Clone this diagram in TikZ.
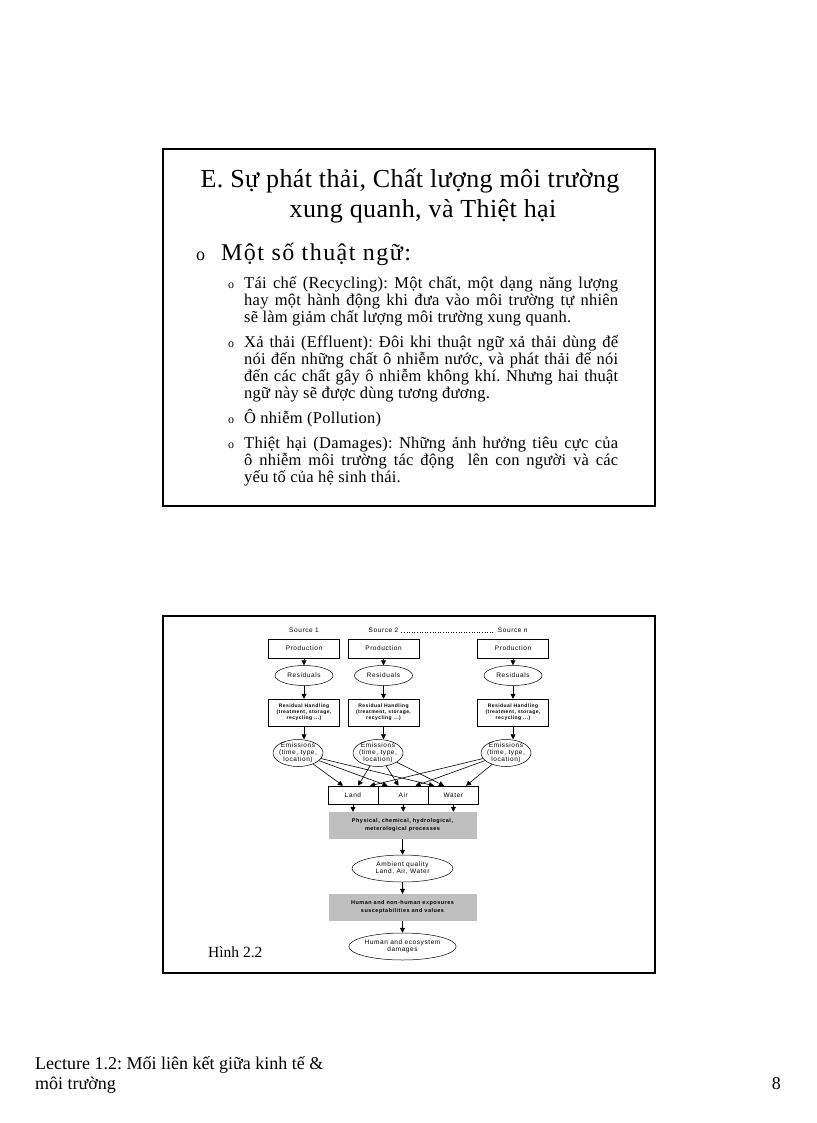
\documentclass[tikz,border=0pt]{standalone}
\usepackage{fontspec}
\setmainfont{Liberation Serif}
\newfontfamily\slidefont[LetterSpace=1.5]{Liberation Serif}
\newfontfamily\termfont[LetterSpace=6]{Liberation Serif}
\newfontfamily\diagfont[LetterSpace=9]{Liberation Sans}
\usetikzlibrary{shapes.geometric,arrows.meta,positioning,calc}
\tolerance=10000
\hyphenpenalty=10000
\frenchspacing

\begin{document}
\begin{tikzpicture}[
    x=1pt, y=-1pt,
    panel/.style={draw, line width=2pt},
    subtext/.style={text width=374pt, align=justify, inner sep=0pt, anchor=base west, font=\slidefont\fontsize{16.5}{17}\selectfont},
    subdot/.style={inner sep=0pt, anchor=base west, font=\fontsize{12}{12}\selectfont},
    srclabel/.style={inner sep=1pt, font=\diagfont\fontsize{6.5}{7}\selectfont},
    procbox/.style={rectangle, draw, line width=0.5pt, minimum width=71pt, minimum height=19pt, inner sep=0pt, font=\diagfont\fontsize{6.5}{7}\selectfont},
    resid/.style={ellipse, draw, line width=0.5pt, minimum width=58pt, minimum height=20pt, inner sep=0pt, font=\diagfont\fontsize{6.5}{7}\selectfont},
    handbox/.style={rectangle, draw, line width=0.5pt, minimum width=71pt, minimum height=27pt, inner sep=0pt, align=center, font=\diagfont\bfseries\fontsize{5}{6}\selectfont},
    emis/.style={ellipse, draw, line width=0.5pt, minimum width=50pt, minimum height=27pt, inner xsep=-3.5pt, inner ysep=-0.5pt, align=center, font=\diagfont\fontsize{6.5}{7}\selectfont},
    medium/.style={rectangle, draw, line width=0.5pt, minimum width=49.7pt, minimum height=18pt, inner sep=0pt, font=\diagfont\fontsize{6.5}{7}\selectfont},
    process/.style={rectangle, fill=gray!50, minimum width=148pt, minimum height=27pt, inner sep=0pt, align=center, font=\diagfont\bfseries\fontsize{5.5}{8}\selectfont},
    outcome/.style={ellipse, draw, line width=0.5pt, minimum width=101pt, minimum height=27pt, inner sep=0pt, align=center, font=\diagfont\fontsize{6.5}{7}\selectfont},
    flow/.style={-{Triangle[length=5pt,width=5pt]}, line width=0.6pt},
]
    \useasboundingbox[fill=white] (0,0) rectangle (816,1123);

    % Upper slide
    \draw[panel] (163,149) rectangle (655,506);
    \node[font=\slidefont\fontsize{26}{30}\selectfont, anchor=base] (title1) at (410,188) {E. Sự phát thải, Chất lượng môi trường};
    \node[font=\slidefont\fontsize{26}{30}\selectfont, anchor=base] (title2) at (423,218) {xung quanh, và Thiệt hại};
    \node[inner sep=0pt, anchor=base west, font=\fontsize{18}{18}\selectfont] (dot0) at (196,260) {o};
    \node[inner sep=0pt, anchor=base west, font=\termfont\fontsize{24}{24}\selectfont] (terms) at (221,260) {Một số thuật ngữ:};

    \node[subdot] (dot1) at (228,288) {o};
    \node[subtext] (recycling) at (244,288) {Tái chế (Recycling): Một chất, một dạng năng lượng\linebreak hay một hành động khi đưa vào môi trường tự nhiên\linebreak sẽ làm giảm chất lượng môi trường xung quanh.};
    \node[subdot] (dot2) at (228,347) {o};
    \node[subtext] (effluent) at (244,347) {Xả thải (Effluent): Đôi khi thuật ngữ xả thải dùng để\linebreak nói đến những chất ô nhiễm nước, và phát thải để nói\linebreak đến các chất gây ô nhiễm không khí. Nhưng hai thuật\linebreak ngữ này sẽ được dùng tương đương.};
    \node[subdot] (dot3) at (228,423) {o};
    \node[subtext] (pollution) at (244,423) {Ô nhiễm (Pollution)};
    \node[subdot] (dot4) at (228,448) {o};
    \node[subtext] (damages) at (244,448) {Thiệt hại (Damages): Những ảnh hưởng tiêu cực của\linebreak ô nhiễm môi trường tác động\ \ lên con người và các\linebreak yếu tố của hệ sinh thái.};

    % Lower slide: figure
    \draw[panel] (163,616) rectangle (655,973);

    % Sources
    \node[srclabel] (src1) at (304,630) {Source 1};
    \node[srclabel] (src2) at (383.5,630) {Source 2};
    \node[srclabel] (srcn) at (513,630) {Source \textit{n}};
    \draw[dotted, line width=0.6pt, shorten >=2pt, shorten <=2pt] (src2.base east) -- (srcn.base west);

    % Production
    \node[procbox] (prod1) at (304,648.5) {Production};
    \node[procbox] (prod2) at (383.5,648.5) {Production};
    \node[procbox] (prod3) at (513,648.5) {Production};
    % Residuals
    \node[resid, below=7pt of prod1] (res1) {Residuals};
    \node[resid, below=7pt of prod2] (res2) {Residuals};
    \node[resid, below=7pt of prod3] (res3) {Residuals};
    % Residual handling
    \node[handbox, below=13pt of res1] (hand1) {Residual Handling\\(treatment, storage,\\recycling ...)};
    \node[handbox, below=13pt of res2] (hand2) {Residual Handling\\(treatment, storage,\\recycling ...)};
    \node[handbox, below=13pt of res3] (hand3) {Residual Handling\\(treatment, storage,\\recycling ...)};
    % Emissions
    \node[emis] (em1) at (298,753) {Emissions\\(time, type,\\location)};
    \node[emis] (em2) at (378,753) {Emissions\\(time, type,\\location)};
    \node[emis] (em3) at (506,753) {Emissions\\(time, type,\\location)};

    \draw[flow] (prod1) -- (res1);
    \draw[flow] (prod2) -- (res2);
    \draw[flow] (prod3) -- (res3);
    \draw[flow] (res1) -- (hand1);
    \draw[flow] (res2) -- (hand2);
    \draw[flow] (res3) -- (hand3);
    \draw[flow] (hand1.south) -- (hand1.south |- em1.north);
    \draw[flow] (hand2.south) -- (hand2.south |- em2.north);
    \draw[flow] (hand3.south) -- (hand3.south |- em3.north);

    % Media
    \node[medium] (land) at (353,795) {Land};
    \node[medium, right=0pt of land] (air) {Air};
    \node[medium, right=0pt of air] (water) {Water};

    \draw[flow] (em1) -- ($(land.north)+(-10pt,0)$);
    \draw[flow] (em2) -- ($(land.north)+(5pt,0)$);
    \draw[flow] (em3) -- ($(land.north)+(17pt,0)$);
    \draw[flow] (em1) -- ($(air.north)+(-15.7pt,0)$);
    \draw[flow] (em2) -- ($(air.north)+(-4.7pt,0)$);
    \draw[flow] (em3) -- ($(air.north)+(12.3pt,0)$);
    \draw[flow] (em1) -- ($(water.north)+(-19.4pt,0)$);
    \draw[flow] (em2) -- ($(water.north)+(-9.4pt,0)$);
    \draw[flow] (em3) -- ($(water.north)+(12.6pt,0)$);

    % Processes and outcomes
    \node[process] (phys) at (402.5,825.5) {Physical, chemical, hydrological,\\meterological processes};
    \node[outcome] (amb) at (402.5,868.5) {Ambient quality\\Land, Air, Water};
    \node[process] (expo) at (402.5,907.5) {Human and non-human exposures\\susceptabilities and values};
    \node[outcome] (dmg) at (402.5,946.5) {Human and ecosystem\\damages};

    \draw[flow] (land.south) -- (land.south |- phys.north);
    \draw[flow] (air.south) -- (air.south |- phys.north);
    \draw[flow] (water.south) -- (water.south |- phys.north);
    \draw[flow] (phys) -- (amb);
    \draw[flow] (amb) -- (expo);
    \draw[flow] (expo) -- (dmg);

    \node[inner sep=0pt, anchor=base west, font=\fontsize{15.5}{16}\selectfont] (fig) at (208,957) {Hình 2.2};

    % Footer
    \node[inner sep=0pt, anchor=base west, font=\fontsize{18}{20}\selectfont] (foot1) at (35,1069) {Lecture 1.2: Mối liên kết giữa kinh tế \&};
    \node[inner sep=0pt, anchor=base west, font=\fontsize{18}{20}\selectfont] (foot2) at (35,1089) {môi trường};
    \node[inner sep=0pt, anchor=base east, font=\fontsize{18}{20}\selectfont] (page) at (781,1089) {8};
\end{tikzpicture}
\end{document}
